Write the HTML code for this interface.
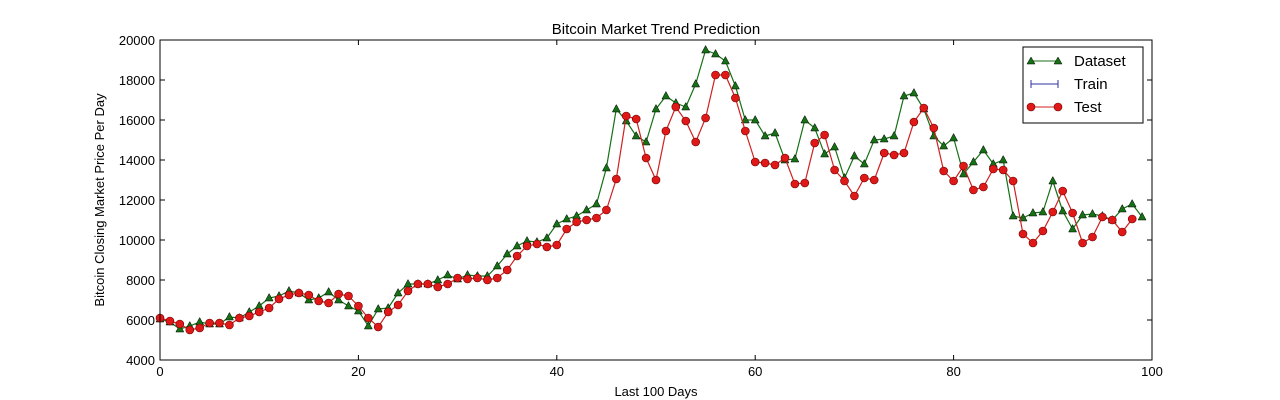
<!DOCTYPE html>
<html><head><meta charset="utf-8"><style>
body{margin:0;background:#fff;}
svg{display:block;font-family:"Liberation Sans","DejaVu Sans",sans-serif;}
</style></head><body>
<svg id="s" width="1280" height="400" xmlns="http://www.w3.org/2000/svg">
<rect width="1280" height="400" fill="#fff"/>
<text x="656" y="34" font-size="15" text-anchor="middle">Bitcoin Market Trend Prediction</text>
<text x="656" y="396" font-size="13" text-anchor="middle">Last 100 Days</text>
<text transform="translate(104,200) rotate(-90)" font-size="13" text-anchor="middle">Bitcoin Closing Market Price Per Day</text>
<g id="ticks" font-size="13"></g>
<g id="plot"></g>
<rect x="160" y="40" width="992" height="320" fill="none" stroke="#000" stroke-width="1"/>
<g>
<rect x="1023" y="47" width="120" height="76" fill="#fff" stroke="#000"/>
<line x1="1031" x2="1058" y1="61" y2="61" stroke="#167016"/>
<polygon points="1031,57 1035,64 1027,64" fill="#167016" stroke="#000" stroke-width="0.5"/>
<polygon points="1058,57 1062,64 1054,64" fill="#167016" stroke="#000" stroke-width="0.5"/>
<text x="1074" y="66" font-size="15">Dataset</text>
<line x1="1031" x2="1058" y1="84" y2="84" stroke="#3030a0"/>
<line x1="1031" x2="1031" y1="80" y2="88" stroke="#3030a0"/>
<line x1="1058" x2="1058" y1="80" y2="88" stroke="#3030a0"/>
<text x="1074" y="89" font-size="15">Train</text>
<line x1="1031" x2="1058" y1="107" y2="107" stroke="#d02020"/>
<circle cx="1031" cy="107" r="4" fill="#e01818" stroke="#600" stroke-width="0.6"/>
<circle cx="1058" cy="107" r="4" fill="#e01818" stroke="#600" stroke-width="0.6"/>
<text x="1074" y="112" font-size="15">Test</text>
</g>
</svg>
<script>
var d=[6050,5900,5550,5700,5900,5800,5800,6150,6100,6400,6700,7100,7200,7450,7350,7000,7100,7400,7000,6700,6450,5700,6550,6600,7350,7800,7800,7800,8000,8250,8050,8250,8200,8200,8700,9300,9700,9950,9900,10100,10800,11050,11200,11500,11800,13600,16550,15950,15200,14900,16550,17200,16850,16650,17800,19500,19300,18950,17700,16000,16000,15200,15350,14000,14050,16000,15600,14300,14650,13100,14200,13800,15000,15050,15200,17200,17350,16550,15200,14700,15100,13300,13900,14500,13800,14000,11200,11100,11350,11400,12950,11450,10550,11250,11300,11200,11000,11550,11800,11150];
var t=[6100,5950,5800,5500,5600,5850,5850,5750,6100,6200,6400,6600,7050,7250,7350,7250,6950,6850,7300,7200,6700,6100,5650,6400,6750,7450,7800,7800,7650,7800,8100,8050,8100,8000,8100,8500,9200,9700,9800,9650,9750,10550,10900,11000,11100,11500,13050,16200,16050,14100,13000,15450,16650,15950,14900,16100,18250,18250,17100,15450,13900,13850,13750,14100,12800,12850,14850,15250,13500,12950,12200,13100,13000,14350,14250,14350,15900,16600,15600,13450,12950,13700,12500,12650,13550,13500,12950,10300,9850,10450,11400,12450,11350,9850,10150,11150,11000,10400,11050];
function X(i){return 160+i*9.92}function Y(v){return 360-(v-4000)*0.02}
var h='';
function line(a,c){return '<polyline fill="none" stroke="'+c+'" stroke-width="1.2" points="'+a.map(function(v,i){return X(i).toFixed(1)+','+Y(v).toFixed(1)}).join(' ')+'"/>'}
h+=line(d,'#167016');
d.forEach(function(v,i){var x=X(i),y=Y(v);h+='<polygon points="'+x+','+(y-4.5)+' '+(x+4)+','+(y+3)+' '+(x-4)+','+(y+3)+'" fill="#167016" stroke="#000" stroke-width="0.5"/>'});
h+=line(t,'#d02020');
t.forEach(function(v,i){h+='<circle cx="'+X(i).toFixed(1)+'" cy="'+Y(v).toFixed(1)+'" r="4" fill="#e01818" stroke="#600" stroke-width="0.6"/>'});
document.getElementById('plot').innerHTML=h;
var k='';
for(var i=0;i<=100;i+=20){var x=X(i);k+='<line x1="'+x+'" x2="'+x+'" y1="360" y2="355" stroke="#000"/><line x1="'+x+'" x2="'+x+'" y1="40" y2="45" stroke="#000"/><text x="'+x+'" y="376" text-anchor="middle">'+i+'</text>'}
for(var v=4000;v<=20000;v+=2000){var y=Y(v);k+='<line x1="160" x2="165" y1="'+y+'" y2="'+y+'" stroke="#000"/><line x1="1147" x2="1152" y1="'+y+'" y2="'+y+'" stroke="#000"/><text x="155" y="'+(y+5)+'" text-anchor="end">'+v+'</text>'}
document.getElementById('ticks').innerHTML=k;
</script>
</body></html>
